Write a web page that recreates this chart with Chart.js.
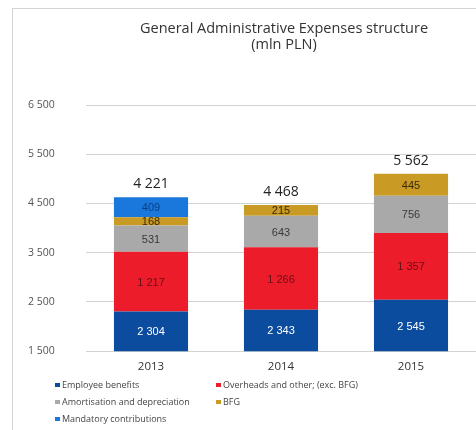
<!DOCTYPE html>
<html>
<head>
<meta charset="utf-8">
<script src="https://cdn.jsdelivr.net/npm/chart.js@4/dist/chart.umd.min.js"></script>
<style>
  html, body { margin: 0; padding: 0; background: #fff; }
  #wrap { position: relative; width: 476px; height: 430px; }
  #frame { position: absolute; left: 12px; top: 8px; right: -2px; bottom: -2px; border-left: 1px solid #d4d4d4; border-top: 1px solid #d4d4d4; }
  canvas { position: absolute; left: 0; top: 0; }
</style>
</head>
<body>
<div id="wrap">
  <div id="frame"></div>
  <canvas id="chart" width="476" height="430"></canvas>
</div>
<script>
const years = ["2013", "2014", "2015"];
const employeeBenefits = [2304, 2343, 2545];
const overheads = [1217, 1266, 1357];
const amortisation = [531, 643, 756];
const bfg = [168, 215, 445];
const mandatory = [409, 0, 0];
const totals = [4221, 4468, 5562];
const titleLines = ["General Administrative Expenses structure", "(mln PLN)"];

const fmt = v => String(v).replace(/\B(?=(\d{3})+(?!\d))/g, " ");

const series = [
    { label: "Employee benefits", data: employeeBenefits, color: "#0c4c9e", text: "#ffffff" },
    { label: "Overheads and other; (exc. BFG)", data: overheads, color: "#ec1c2b", text: "#6a1014" },
    { label: "Amortisation and depreciation", data: amortisation, color: "#a9a9a9", text: "#3a3a3a" },
    { label: "BFG", data: bfg, color: "#c99b24", text: "#3a2a08" },
    { label: "Mandatory contributions", data: mandatory, color: "#1a78dc", text: "#0a3f85" }
];

// value labels inside segments, totals on top, title and two-column legend
const extras = {
    id: "extras",
    afterDatasetsDraw(chart) {
        const ctx = chart.ctx;
        const area = chart.chartArea;
        ctx.save();
        ctx.textAlign = "center";
        ctx.textBaseline = "middle";
        chart.data.datasets.forEach((ds, i) => {
            const meta = chart.getDatasetMeta(i);
            meta.data.forEach((bar, j) => {
                const v = ds.data[j];
                if (!v) return;
                const base = Math.min(bar.base, area.bottom);
                ctx.fillStyle = series[i].text;
                ctx.font = "11px 'Liberation Sans', sans-serif";
                ctx.fillText(fmt(v), bar.x, (bar.y + base) / 2 + 1);
            });
        });
        // totals above the stacks
        ctx.fillStyle = "#222";
        ctx.font = "14px 'Open Sans', sans-serif";
        ctx.textBaseline = "alphabetic";
        years.forEach((y, j) => {
            let top = Infinity;
            chart.data.datasets.forEach((ds, i) => {
                const bar = chart.getDatasetMeta(i).data[j];
                if (ds.data[j]) top = Math.min(top, bar.y);
            });
            const x = chart.getDatasetMeta(0).data[j].x;
            ctx.fillText(fmt(totals[j]), x, top - 9);
        });

        // title
        ctx.fillStyle = "#333";
        ctx.font = "14.5px 'Open Sans', sans-serif";
        ctx.fillText(titleLines[0], 284, 33);
        ctx.fillText(titleLines[1], 284, 49);

        // legend
        ctx.font = "9px 'Open Sans', sans-serif";
        ctx.textAlign = "left";
        ctx.textBaseline = "middle";
        const cols = [55, 216];
        const rows = [385, 402, 419];
        series.forEach((s, i) => {
            const x = cols[i % 2];
            const y = rows[Math.floor(i / 2)];
            ctx.fillStyle = s.color;
            ctx.fillRect(x, y - 2, 5, 4);
            ctx.fillStyle = "#444";
            ctx.fillText(s.label, x + 7, y);
        });
        ctx.restore();
    }
};

new Chart(document.getElementById("chart"), {
    type: "bar",
    data: {
        labels: years,
        datasets: series.map(s => ({
            label: s.label,
            data: s.data,
            backgroundColor: s.color,
            borderWidth: 0,
            barPercentage: 0.57,
            categoryPercentage: 1
        }))
    },
    options: {
        responsive: false,
        animation: false,
        layout: { padding: { top: 105, left: 28, right: 0, bottom: 47 } },
        plugins: {
            legend: { display: false },
            title: { display: false },
            tooltip: { enabled: false }
        },
        scales: {
            x: {
                stacked: true,
                grid: { display: false, drawTicks: false },
                border: { display: false },
                ticks: { color: "#333", font: { size: 11.5, family: "'Open Sans', sans-serif" }, padding: 9 }
            },
            y: {
                stacked: true,
                min: 1500,
                max: 6500,
                grid: { color: "#d2d2d2", drawTicks: false },
                border: { display: false },
                ticks: {
                    stepSize: 1000,
                    crossAlign: "far",
                    color: "#555",
                    font: { size: 10.5, family: "'Open Sans', sans-serif" },
                    callback: v => fmt(v)
                },
                afterFit: s => { s.width = 58; }
            }
        }
    },
    plugins: [extras]
});
</script>
</body>
</html>
